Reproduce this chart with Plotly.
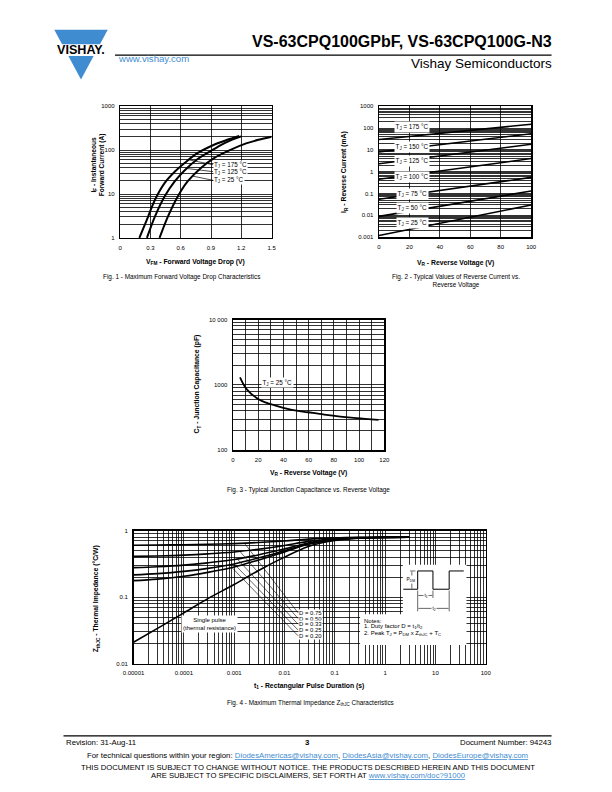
import numpy as np
import plotly.graph_objects as go

FONT = "Liberation Sans, Arial, Helvetica, sans-serif"
W, H = 612, 792
BLUE = "#3F8CD0"

# ---------------- data ----------------
# Fig. 1  forward voltage drop
vf_175 = [0.19, 0.265, 0.345, 0.44, 0.54, 0.635, 0.765, 0.925, 1.05, 1.18]
if_175 = [1, 2.6, 7.4, 17.7, 32, 50, 85, 131, 168, 209]
vf_125 = [0.265, 0.345, 0.44, 0.54, 0.635, 0.765, 0.925, 1.05, 1.2]
if_125 = [1, 3.1, 8.8, 19.3, 34, 62, 104, 150, 205]
vf_25 = [0.39, 0.474, 0.571, 0.668, 0.797, 0.926, 1.087, 1.248, 1.37, 1.5]
if_25 = [1, 3.1, 8.8, 19.3, 38.7, 65, 100, 142, 172, 202]
fig1_xticks = [0, 0.3, 0.6, 0.9, 1.2, 1.5]
fig1_xlabels = ["0", "0.3", "0.6", "0.9", "1.2", "1.5"]
fig1_yticks = [1, 10, 100, 1000]
fig1_ylabels = ["1", "10", "100", "1000"]

# Fig. 2  reverse current
vr2 = [0, 100]
ir_175 = [30, 150]
ir_150 = [8, 55]
ir_125 = [2.3, 18]
ir_100 = [0.45, 4]
ir_75 = [0.055, 0.55]
ir_50 = [0.009, 0.13]
ir_25 = [0.0012, 0.03]
fig2_temps = ["175", "150", "125", "100", "75", "50", "25"]
fig2_label_y = [115, 14, 3.2, 0.55, 0.098, 0.022, 0.0047]
fig2_yticks = [0.001, 0.01, 0.1, 1, 10, 100, 1000]
fig2_ylabels = ["0.001", "0.01", "0.1", "1", "10", "100", "1000"]
fig2_xticks = [0, 20, 40, 60, 80, 100]

# Fig. 3  junction capacitance
vr3 = [5.6, 10.8, 21, 33.8, 46.7, 59.5, 72.3, 85.1, 98, 115.4]
ct3 = [1300, 865, 595, 483, 415, 382, 352, 328, 310, 292]
fig3_xticks = [0, 20, 40, 60, 80, 100, 120]
fig3_yticks = [100, 1000, 10000]
fig3_ylabels = ["100", "1000", "10 000"]

# Fig. 4  thermal impedance
t4 = [1e-5, 3e-5, 1e-4, 3e-4, 1e-3, 3e-3, 1e-2, 3e-2, 1e-1, 3e-1, 1, 3]
z_single = [0.021, 0.034, 0.058, 0.095, 0.155, 0.25, 0.40, 0.58, 0.71, 0.77, 0.79, 0.80]
z_d075 = [0.605, 0.609, 0.615, 0.624, 0.639, 0.663, 0.70, 0.745, 0.778, 0.793, 0.798, 0.80]
z_d050 = [0.41, 0.417, 0.429, 0.448, 0.478, 0.525, 0.60, 0.69, 0.755, 0.785, 0.795, 0.80]
z_d033 = [0.278, 0.287, 0.303, 0.328, 0.368, 0.432, 0.532, 0.653, 0.74, 0.78, 0.793, 0.80]
z_d025 = [0.216, 0.226, 0.244, 0.271, 0.316, 0.388, 0.50, 0.635, 0.733, 0.778, 0.793, 0.80]
z_d020 = [0.177, 0.187, 0.206, 0.236, 0.284, 0.36, 0.48, 0.624, 0.728, 0.776, 0.792, 0.80]
d_names = ["0.75", "0.50", "0.33", "0.25", "0.20"]
fig4_xticks = [1e-5, 1e-4, 1e-3, 1e-2, 1e-1, 1, 10, 100]
fig4_xlabels = ["0.00001", "0.0001", "0.001", "0.01", "0.1", "1", "10", "100"]
fig4_yticks = [0.01, 0.1, 1]
fig4_ylabels = ["0.01", "0.1", "1"]


# ---------------- helpers ----------------
def PX(x):
    return x / W


def PY(y):
    return 1 - y / H


def minor_log(lo, hi):
    return [d * 10.0 ** k for k in range(lo, hi) for d in range(2, 10)]


def axis(domain, **kw):
    a = dict(domain=domain, showline=True, mirror=True, linecolor="black", linewidth=1.4,
             showgrid=True, gridcolor="black", gridwidth=0.8, zeroline=False,
             ticks="outside", ticklen=3, tickcolor="rgba(0,0,0,0)",
             tickfont=dict(size=6, family=FONT, color="black"), fixedrange=True)
    a.update(kw)
    return a


annotations = []


def txt(x, y, text, size=6.5, xanchor="center", yanchor="middle", angle=0, color="black", bg=None):
    d = dict(x=PX(x), y=PY(y), xref="paper", yref="paper", text=text, showarrow=False,
             xanchor=xanchor, yanchor=yanchor, textangle=angle,
             font=dict(family=FONT, size=size, color=color))
    if bg:
        d["bgcolor"] = bg
        d["borderpad"] = 0.5
    annotations.append(d)


fig = go.Figure()

# Fig 1 traces
for v, i in [(vf_175, if_175), (vf_125, if_125), (vf_25, if_25)]:
    fig.add_trace(go.Scatter(x=v, y=i, mode="lines", line=dict(color="black", width=2, shape="spline"),
                             xaxis="x", yaxis="y", showlegend=False, hoverinfo="skip"))
# Fig 2 traces
for irv in [ir_175, ir_150, ir_125, ir_100, ir_75, ir_50, ir_25]:
    fig.add_trace(go.Scatter(x=vr2, y=irv, mode="lines", line=dict(color="black", width=1.6),
                             xaxis="x2", yaxis="y2", showlegend=False, hoverinfo="skip"))
# Fig 3 trace
fig.add_trace(go.Scatter(x=vr3, y=ct3, mode="lines", line=dict(color="black", width=1.8, shape="spline"),
                         xaxis="x3", yaxis="y3", showlegend=False, hoverinfo="skip"))
# Fig 4 traces
for zv in [z_single, z_d075, z_d050, z_d033, z_d025, z_d020]:
    fig.add_trace(go.Scatter(x=t4, y=zv, mode="lines", line=dict(color="black", width=1.6, shape="spline"),
                             xaxis="x4", yaxis="y4", showlegend=False, hoverinfo="skip"))

D1x, D1y = [PX(112.3), PX(268)], [PY(236.7), PY(104)]
D2x, D2y = [PX(378.5), PX(535)], [PY(236), PY(104)]
D3x, D3y = [PX(228.3), PX(384)], [PY(450.7), PY(319)]
D4x, D4y = [PX(126), PX(488.3)], [PY(665.7), PY(531.7)]

mgrid = dict(showgrid=True, gridcolor="black", gridwidth=0.8, ticks="")

layout = dict(
    width=W, height=H, margin=dict(l=0, r=0, t=0, b=0), autosize=False,
    paper_bgcolor="white", plot_bgcolor="white", showlegend=False,
    font=dict(family=FONT, color="black"),
    xaxis=axis(D1x, anchor="y", range=[0, 1.5], tickvals=fig1_xticks, ticktext=fig1_xlabels),
    yaxis=axis(D1y, anchor="x", type="log", range=[0, 3], tickvals=fig1_yticks, ticktext=fig1_ylabels,
               minor=dict(tickvals=minor_log(0, 3), **mgrid)),
    xaxis2=axis(D2x, anchor="y2", range=[0, 100], tickvals=fig2_xticks,
                ticktext=[str(v) for v in fig2_xticks]),
    yaxis2=axis(D2y, anchor="x2", type="log", range=[-3, 3], tickvals=fig2_yticks, ticktext=fig2_ylabels,
                minor=dict(tickvals=minor_log(-3, 3), **mgrid)),
    xaxis3=axis(D3x, anchor="y3", range=[0, 120], tickvals=fig3_xticks,
                ticktext=[str(v) for v in fig3_xticks],
                minor=dict(tickvals=[10, 30, 50, 70, 90, 110], **mgrid)),
    yaxis3=axis(D3y, anchor="x3", type="log", range=[2, 4], tickvals=fig3_yticks, ticktext=fig3_ylabels,
                minor=dict(tickvals=minor_log(2, 4), **mgrid)),
    xaxis4=axis(D4x, anchor="y4", type="log", range=[-5, 2], tickvals=fig4_xticks, ticktext=fig4_xlabels,
                minor=dict(tickvals=minor_log(-5, 2), **mgrid)),
    yaxis4=axis(D4y, anchor="x4", type="log", range=[-2, 0], tickvals=fig4_yticks, ticktext=fig4_ylabels,
                minor=dict(tickvals=minor_log(-2, 0), **mgrid)),
)

# ---------- Fig 1 labels with leaders ----------
f1_heads = [(0.68, vf_175, if_175), (0.66, vf_125, if_125), (0.72, vf_25, if_25)]
f1_lab_y = [46.5, 32.3, 20.5]
f1_text = ["T<sub>J</sub> = 175 °C", "T<sub>J</sub> = 125 °C", "T<sub>J</sub> = 25 °C"]
for (hv, vv, ii), ly, tx in zip(f1_heads, f1_lab_y, f1_text):
    hy = np.interp(hv, vv, np.log10(ii))
    annotations.append(dict(x=hv, y=hy, xref="x", yref="y", ax=0.92, ay=np.log10(ly), axref="x", ayref="y",
                            text=tx, showarrow=True, arrowhead=0, arrowwidth=0.7, arrowcolor="black",
                            xanchor="left", bgcolor="white", borderpad=0,
                            font=dict(family=FONT, size=6.3, color="black")))

# ---------- Fig 2 labels ----------
for tname, ly in zip(fig2_temps, fig2_label_y):
    annotations.append(dict(x=22, y=np.log10(ly), xref="x2", yref="y2", showarrow=False,
                            text="T<sub>J</sub> = %s °C" % tname, bgcolor="white", borderpad=0.6,
                            font=dict(family=FONT, size=6.3, color="black")))

# ---------- Fig 3 label ----------
annotations.append(dict(x=35.2, y=np.log10(1080), xref="x3", yref="y3", showarrow=False,
                        text="T<sub>J</sub> = 25 °C", bgcolor="white", borderpad=0.5,
                        font=dict(family=FONT, size=6.3, color="black")))

# ---------- Fig 4 D labels with leaders ----------
d_curves = [z_d075, z_d050, z_d033, z_d025, z_d020]
d_head_t = [1.6e-3, 1.3e-3, 1.15e-3, 1.0e-3, 9e-4]
d_lab_py = [614.5, 620.2, 626, 631.8, 637.6]
for name, zc, ht, lpy in zip(d_names, d_curves, d_head_t, d_lab_py):
    hz = np.interp(np.log10(ht), np.log10(t4), np.log10(zc))
    ay = -2 + (665.7 - lpy) / 67.0
    annotations.append(dict(x=np.log10(ht), y=hz, xref="x4", yref="y4", ax=-1.73, ay=ay,
                            axref="x4", ayref="y4", text="D = " + name, showarrow=True, arrowhead=0,
                            arrowwidth=0.6, arrowcolor="black", xanchor="left", bgcolor="white",
                            borderpad=0, font=dict(family=FONT, size=5.9, color="black")))

annotations.append(dict(x=np.log10(3.2e-4), y=-2 + (665.7 - 625.5) / 67.0, xref="x4", yref="y4",
                        showarrow=False, text="Single pulse<br>(thermal resistance)", bgcolor="white",
                        borderpad=1, font=dict(family=FONT, size=6.0, color="black")))

# ---------- axis titles & captions ----------
txt(190, 260.7, "<b>V<sub>FM</sub> - Forward Voltage Drop (V)</b>", 6.8)
txt(90, 163, "<b>I<sub>F</sub> - Instantaneous<br>Forward Current (A)</b>", 6.6, angle=-90)
txt(175, 275.7, "Fig. 1 - Maximum Forward Voltage Drop Characteristics", 6.4)

txt(457, 261.7, "<b>V<sub>R</sub> - Reverse Voltage (V)</b>", 6.8)
txt(342.7, 170, "<b>I<sub>R</sub> - Reverse Current (mA)</b>", 6.8, angle=-90)
txt(458, 280.5, "Fig. 2 - Typical Values of Reverse Current vs.<br>Reverse Voltage", 6.4)

txt(306, 474, "<b>V<sub>R</sub> - Reverse Voltage (V)</b>", 6.8)
txt(191.7, 384, "<b>C<sub>T</sub> - Junction Capacitance (pF)</b>", 6.8, angle=-90)
txt(306, 491, "Fig. 3 - Typical Junction Capacitance vs. Reverse Voltage", 6.4)

txt(307, 688, "<b>t<sub>1</sub> - Rectangular Pulse Duration (s)</b>", 6.8)
txt(88.3, 600, "<b>Z<sub>thJC</sub> - Thermal Impedance (°C/W)</b>", 6.8, angle=-90)
txt(308, 705, "Fig. 4 - Maximum Thermal Impedance Z<sub>thJC</sub> Characteristics", 6.4)

# ---------- Notes in Fig 4 ----------
txt(361, 622.5, "Notes:", 6.0, xanchor="left")
txt(361, 628.7, "1. Duty factor D = t<sub>1</sub>/t<sub>2</sub>", 6.0, xanchor="left")
txt(361, 635, "2. Peak T<sub>J</sub> = P<sub>DM</sub> x Z<sub>thJC</sub> + T<sub>C</sub>", 6.0, xanchor="left")
txt(411, 581, "P<sub>DM</sub>", 4.8, bg="white")
txt(426.5, 597, "t<sub>1</sub>", 4.8, bg="white")
txt(435, 610, "t<sub>2</sub>", 4.8, bg="white")

# ---------- header / footer ----------
txt(558, 39, "<b>VS-63CPQ100GPbF, VS-63CPQ100G-N3</b>", 16, xanchor="right")
txt(558, 61, "Vishay Semiconductors", 13.5, xanchor="right")
txt(108, 56, "www.vishay.com", 9.6, xanchor="left", color=BLUE)
txt(72, 47.5, "<b>VISHAY.</b>", 12.6)

txt(54, 745.5, "Revision: 31-Aug-11", 7.8, xanchor="left")
txt(305, 745.5, "<b>3</b>", 7.8)
txt(557, 745.5, "Document Number: 94243", 7.8, xanchor="right")
link = '<span style="color:%s"><u>%s</u></span>'
txt(305, 758.5, "For technical questions within your region: " + link % (BLUE, "DiodesAmericas@vishay.com")
    + ", " + link % (BLUE, "DiodesAsia@vishay.com") + ", " + link % (BLUE, "DiodesEurope@vishay.com"), 7.8)
txt(305, 770.3, "THIS DOCUMENT IS SUBJECT TO CHANGE WITHOUT NOTICE. THE PRODUCTS DESCRIBED HEREIN AND THIS DOCUMENT", 7.7)
txt(305, 778.8, "ARE SUBJECT TO SPECIFIC DISCLAIMERS, SET FORTH AT " + link % (BLUE, "www.vishay.com/doc?91000"), 7.7)

# ---------- shapes ----------
shapes = []


def pline(x0, y0, x1, y1, w=1.0):
    shapes.append(dict(type="line", xref="paper", yref="paper", x0=PX(x0), y0=PY(y0), x1=PX(x1), y1=PY(y1),
                       line=dict(color="black", width=w), layer="above"))


def prect(x0, y0, x1, y1, fill="white"):
    shapes.append(dict(type="rect", xref="paper", yref="paper", x0=PX(x0), y0=PY(y0), x1=PX(x1), y1=PY(y1),
                       line=dict(width=0), fillcolor=fill, layer="above"))


# logo
shapes.append(dict(type="path", xref="paper", yref="paper",
                   path="M %f,%f L %f,%f L %f,%f Z" % (PX(44.5), PY(27), PX(99.5), PY(27), PX(72), PY(77)),
                   fillcolor=BLUE, line=dict(width=0), layer="above"))
prect(40, 41.5, 104, 53.3)
# header / footer rules
pline(107, 52.5, 556, 52.5, 1.1)
pline(54, 738.5, 556, 738.5, 1.4)

# Fig 4 note boxes
prect(403, 566, 468.5, 621)
prect(359, 616, 468.5, 647)
# waveform
pline(403.5, 590.7, 418.3, 590.7, 1.0)
pline(418.3, 590.7, 418.3, 572.3, 1.0)
pline(418.3, 572.3, 434, 572.3, 1.0)
pline(434, 572.3, 434, 590.7, 1.0)
pline(434, 590.7, 450.7, 590.7, 1.0)
pline(450.7, 590.7, 450.7, 572.3, 1.0)
pline(450.7, 572.3, 465.7, 572.3, 1.0)
# PDM dimension
pline(412.3, 573, 412.3, 590, 0.6)
pline(410.5, 572.3, 416, 572.3, 0.6)
# t1 / t2 dimension
pline(418.3, 592, 418.3, 613, 0.6)
pline(434, 592, 434, 599.5, 0.6)
pline(450.7, 592, 450.7, 613, 0.6)
pline(419, 597, 433.3, 597, 0.6)
pline(419, 610, 450, 610, 0.6)

layout["annotations"] = annotations
layout["shapes"] = shapes
fig.update_layout(**layout)
fig.write_html("out.html", config={"displayModeBar": False, "staticPlot": True},
               post_script="document.body.style.margin='0';document.body.style.padding='0';"
                           "document.documentElement.style.overflow='hidden';")
